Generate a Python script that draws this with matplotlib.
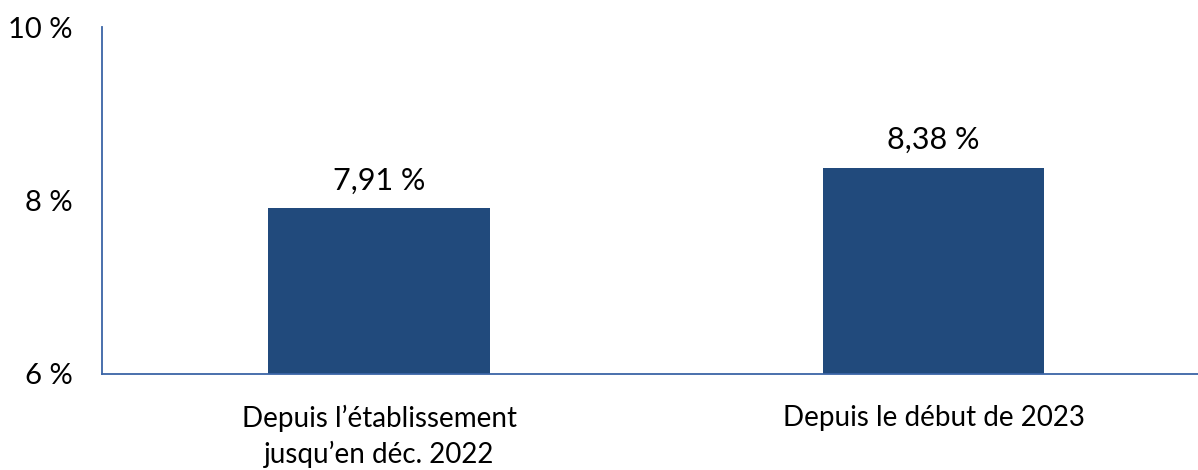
import matplotlib
matplotlib.use('Agg')
import matplotlib.pyplot as plt

categories = ['Depuis l\u2019établissement\njusqu\u2019en déc. 2022', 'Depuis le début de 2023']
values = [7.91, 8.38]
labels = ['7,91 %', '8,38 %']
yticks = [6, 8, 10]
ytick_labels = ['6 %', '8 %', '10 %']

plt.rcParams['font.family'] = ['Lato', 'DejaVu Sans']

fig = plt.figure(figsize=(11.98, 4.70), dpi=100)
ax = fig.add_axes([102 / 1198, 96 / 470, 1096 / 1198, 347 / 470])

x = range(len(categories))
bars = ax.bar(x, [v - 6 for v in values], bottom=6, width=0.4, color='#214A7C')
for b, lab in zip(bars, labels):
    ax.annotate(lab, (b.get_x() + b.get_width() / 2, b.get_y() + b.get_height()),
                xytext=(0, 10), textcoords='offset points',
                ha='center', va='bottom', fontsize=22)

ax.set_xlim(-0.5, 1.477)
ax.set_ylim(6, 10)
ax.set_yticks(yticks)
ax.set_yticklabels(ytick_labels, fontsize=21)
ax.set_xticks(list(x))
ax.set_xticklabels(categories, fontsize=20, linespacing=1.4)
ax.tick_params(axis='both', length=0)
ax.tick_params(axis='y', pad=21)
ax.tick_params(axis='x', pad=22)

for s in ['top', 'right']:
    ax.spines[s].set_visible(False)
for s in ['left', 'bottom']:
    ax.spines[s].set_color('#3A64A6')
    ax.spines[s].set_linewidth(1.3)

fig.savefig('out.png', dpi=100)
